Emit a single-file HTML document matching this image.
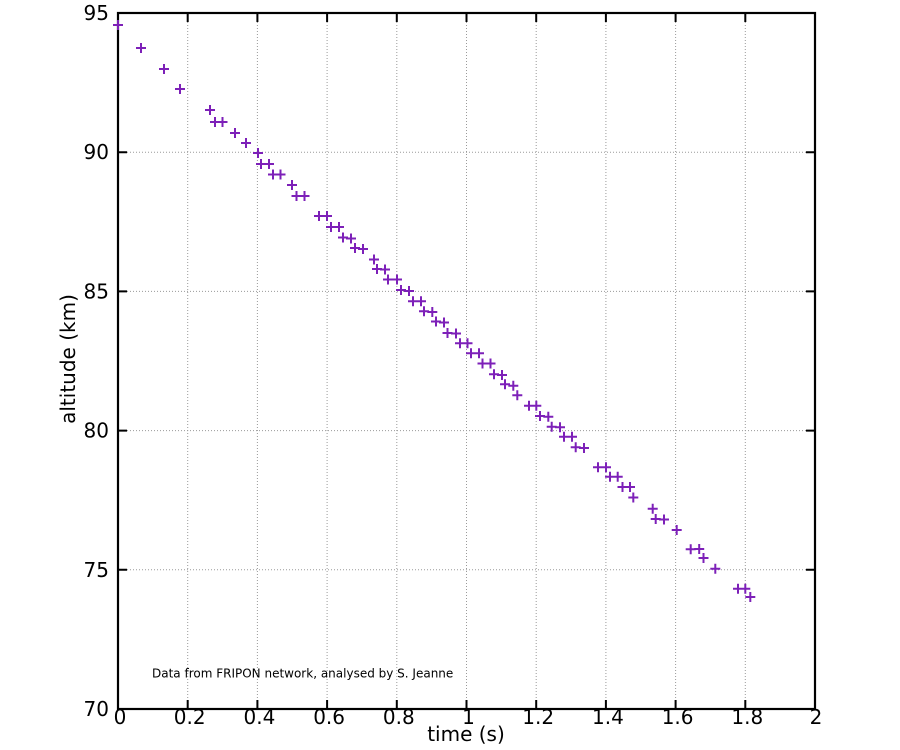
<!DOCTYPE html>
<html>
<head>
<meta charset="utf-8">
<style>
  html, body { margin: 0; padding: 0; background: #ffffff; }
  svg { display: block; }
  text { font-family: "DejaVu Sans", "Liberation Sans", sans-serif; fill: #000; }
</style>
</head>
<body>
<svg width="900" height="750" viewBox="0 0 900 750" xmlns="http://www.w3.org/2000/svg">
  <rect x="0" y="0" width="900" height="750" fill="#ffffff"/>

  <g stroke="#9a9a9a" stroke-width="1" stroke-dasharray="1,2" fill="none">
    <path d="M187.7 13V709M257.4 13V709M327.1 13V709M396.8 13V709M466.5 13V709M536.2 13V709M605.9 13V709M675.6 13V709M745.3 13V709"/>
    <path d="M118 569.8H815M118 430.6H815M118 291.4H815M118 152.2H815"/>
  </g>

  <g stroke="#000" stroke-width="2" fill="none">
    <path d="M187.7 709v-9M257.4 709v-9M327.1 709v-9M396.8 709v-9M466.5 709v-9M536.2 709v-9M605.9 709v-9M675.6 709v-9M745.3 709v-9"/>
    <path d="M187.7 13v9M257.4 13v9M327.1 13v9M396.8 13v9M466.5 13v9M536.2 13v9M605.9 13v9M675.6 13v9M745.3 13v9"/>
    <path d="M118 569.8h9M118 430.6h9M118 291.4h9M118 152.2h9"/>
    <path d="M815 569.8h-9M815 430.6h-9M815 291.4h-9M815 152.2h-9"/>
  </g>

  <rect x="118" y="13" width="697" height="696" fill="none" stroke="#000" stroke-width="2.2"/>

  <g font-size="20" text-anchor="end">
    <text x="109" y="716">70</text>
    <text x="109" y="576.8">75</text>
    <text x="109" y="437.6">80</text>
    <text x="109" y="298.4">85</text>
    <text x="109" y="159.2">90</text>
    <text x="109" y="20">95</text>
  </g>

  <g font-size="20" text-anchor="middle">
    <text x="120" y="724">0</text>
    <text x="189.7" y="724">0.2</text>
    <text x="259.4" y="724">0.4</text>
    <text x="329.1" y="724">0.6</text>
    <text x="398.8" y="724">0.8</text>
    <text x="468.5" y="724">1</text>
    <text x="538.2" y="724">1.2</text>
    <text x="607.9" y="724">1.4</text>
    <text x="677.6" y="724">1.6</text>
    <text x="747.3" y="724">1.8</text>
    <text x="816" y="724">2</text>
  </g>

  <text x="466" y="741" font-size="20" text-anchor="middle">time (s)</text>
  <text transform="translate(75,359) rotate(-90)" font-size="20" text-anchor="middle">altitude (km)</text>

  <text x="152" y="677.5" font-size="12">Data from FRIPON network, analysed by S. Jeanne</text>

  <g stroke="#7d20b8" stroke-width="2" fill="none">
    <path d="M113 25h10m-5-5v10 M136 48h10m-5-5v10 M159 69h10m-5-5v10 M175 89h10m-5-5v10 M205 110h10m-5-5v10 M210 122h10m-5-5v10 M217.5 122h10m-5-5v10 M230 133h10m-5-5v10 M241 143h10m-5-5v10 M253 153h10m-5-5v10"/>
    <path d="M256 164h10m-5-5v10 M264 164h10m-5-5v10 M268 174.5h10m-5-5v10 M275.5 174.5h10m-5-5v10 M287 185h10m-5-5v10 M291.5 196h10m-5-5v10 M299.5 196h10m-5-5v10 M314 216h10m-5-5v10 M322 216h10m-5-5v10 M326 227h10m-5-5v10"/>
    <path d="M334 227h10m-5-5v10 M338 237.5h10m-5-5v10 M346 238.5h10m-5-5v10 M350 248h10m-5-5v10 M358 249h10m-5-5v10 M369 259.5h10m-5-5v10 M372 269h10m-5-5v10 M380 269.5h10m-5-5v10 M383 279.5h10m-5-5v10 M392 279.5h10m-5-5v10"/>
    <path d="M396 290h10m-5-5v10 M404 291h10m-5-5v10 M408 301.3h10m-5-5v10 M416 301.3h10m-5-5v10 M419 311.3h10m-5-5v10 M427.3 312h10m-5-5v10 M431 321.5h10m-5-5v10 M439 322.5h10m-5-5v10 M442.5 333h10m-5-5v10 M451 333.5h10m-5-5v10"/>
    <path d="M455 343.3h10m-5-5v10 M462.5 343.3h10m-5-5v10 M466 353.3h10m-5-5v10 M474 353.3h10m-5-5v10 M477.5 363.5h10m-5-5v10 M485.5 363.5h10m-5-5v10 M489 374.3h10m-5-5v10 M497 375h10m-5-5v10 M500 384.3h10m-5-5v10 M508.3 385.7h10m-5-5v10"/>
    <path d="M512.3 395.3h10m-5-5v10 M524 405.7h10m-5-5v10 M531.3 405.7h10m-5-5v10 M535 416h10m-5-5v10 M543.3 416.7h10m-5-5v10 M546.7 426.7h10m-5-5v10 M555 427.3h10m-5-5v10 M559 436.7h10m-5-5v10 M567 436.7h10m-5-5v10 M570.7 447.3h10m-5-5v10"/>
    <path d="M579 448h10m-5-5v10 M593 467.3h10m-5-5v10 M601 467.3h10m-5-5v10 M605 476.7h10m-5-5v10 M612.7 476.7h10m-5-5v10 M617.5 487h10m-5-5v10 M625 487h10m-5-5v10 M628.3 497.5h10m-5-5v10 M647.7 508.7h10m-5-5v10 M650.7 519h10m-5-5v10"/>
    <path d="M659 519.5h10m-5-5v10 M671.7 530h10m-5-5v10 M685.7 549.3h10m-5-5v10 M694.2 549h10m-5-5v10 M698.5 558h10m-5-5v10 M710.3 568.7h10m-5-5v10 M733 588.7h10m-5-5v10 M740.3 588.7h10m-5-5v10 M745.3 597h10m-5-5v10"/>
  </g>
</svg>
</body>
</html>
